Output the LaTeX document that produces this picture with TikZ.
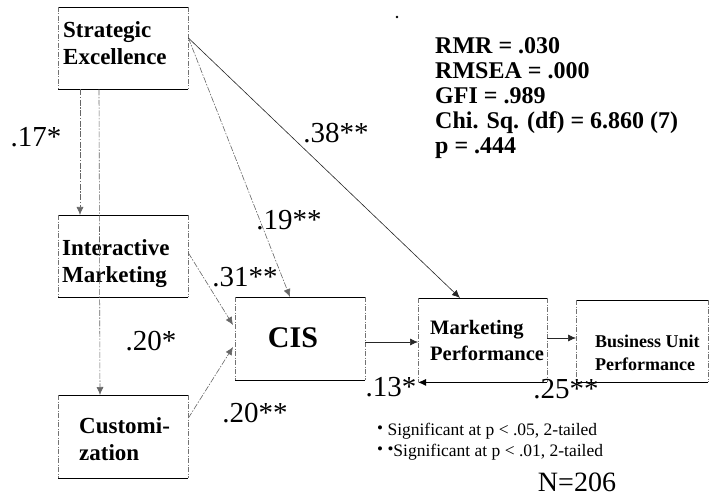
\documentclass[tikz,border=0pt]{standalone}
\usepackage{fontspec}
\setmainfont{Liberation Serif}
\usetikzlibrary{arrows.meta}
\newcommand{\notedot}{\raisebox{.25ex}{\fontsize{17}{17}\selectfont\textbullet}}
\begin{document}
\begin{tikzpicture}[x=1pt,y=-1pt,
  box/.style={draw=none, inner sep=0pt, anchor=north west},
  rim/.style={draw=black, line width=0.9pt},
  side/.style={draw=black!55, line width=0.5pt, dash pattern=on 5pt off 1.5pt on 1pt off 1.5pt},
  edge/.style={draw=black!85, line width=0.6pt, -{Latex[length=8pt,width=7pt]}},
  lite/.style={edge, draw=black!60, dash pattern=on 6pt off 1.5pt on 1.5pt off 1.5pt},
  boxtext/.style={font=\fontsize{23}{27}\selectfont\bfseries, align=left, inner sep=0pt, anchor=north west},
  coef/.style={font=\fontsize{29}{29}\selectfont, inner sep=0pt},
  stat/.style={font=\fontsize{24}{25}\selectfont\bfseries, align=left, inner sep=0pt, anchor=north west},
  note/.style={font=\fontsize{17.5}{21}\selectfont, align=left, inner sep=0pt, anchor=north west}
]
\useasboundingbox (0,0) rectangle (710,500);

% boxes
\node[box, minimum width=130pt, minimum height=82pt] (se)  at (58,7)   {};
\node[box, minimum width=130pt, minimum height=82pt] (im)  at (58,215) {};
\node[box, minimum width=130pt, minimum height=83pt] (cu)  at (58,395) {};
\node[box, minimum width=130pt, minimum height=83pt] (cis) at (235,297) {};
\node[box, minimum width=129pt, minimum height=84pt] (mp)  at (418,298) {};
\node[box, minimum width=132pt, minimum height=82pt] (bu)  at (576,300) {};

% box outlines: solid top and bottom, broken sides
\foreach \n in {se,im,cu,cis,bu}{
  \draw[rim] (\n.north west) -- (\n.north east);
  \draw[rim] (\n.south west) -- (\n.south east);
}
\draw[rim] (mp.north west) -- (mp.north east);
\foreach \n in {se,im,cu,cis,mp,bu}{
  \draw[side] (\n.north west) -- (\n.south west);
  \draw[side] (\n.north east) -- (\n.south east);
}

% box texts
\node[boxtext] (se-t) at ([xshift=5pt,yshift=-14pt]se.north west) {Strategic\\Excellence};
\node[boxtext] (im-t) at ([xshift=4pt,yshift=-24pt]im.north west) {Interactive\\Marketing};
\node[boxtext] (cu-t) at ([xshift=21pt,yshift=-22pt]cu.north west) {Customi-\\zation};
\node[font=\fontsize{30}{30}\selectfont\bfseries, inner sep=0pt] (cis-t) at (293,338) {CIS};
\node[boxtext, font=\fontsize{20.5}{26}\selectfont\bfseries] (mp-t) at ([xshift=12pt,yshift=-22pt]mp.north west) {Marketing\\Performance};
\node[boxtext, font=\fontsize{18}{23}\selectfont\bfseries] (bu-t) at ([xshift=19pt,yshift=-35pt]bu.north west) {Business Unit\\Performance};

% paths
\draw[lite] ([xshift=22pt]se.south west) -- ([xshift=22pt]im.north west);
\draw[lite] ([xshift=41pt]se.south west) -- ([xshift=42pt]cu.north west);
\draw[lite] ([yshift=-31pt]se.north east) -- ([xshift=55pt]cis.north west);
\draw[edge] ([yshift=-31pt]se.north east) -- ([xshift=42pt]mp.north west);
\draw[lite] ([yshift=-38pt]im.north east) -- ([xshift=-2pt,yshift=-28pt]cis.north west);
\draw[lite] ([yshift=-23pt]cu.north east) -- ([xshift=-2pt,yshift=-50pt]cis.north west);
\draw[edge] ([yshift=-45pt]cis.north east) -- ([yshift=-44pt]mp.north west);
\draw[edge] ([yshift=-40pt]mp.north east) -- ([yshift=-38pt]bu.north west);
\draw[rim, -{Latex[length=8pt,width=7pt]}] (mp.south east) -- (mp.south west);

% coefficients
\node[coef] (c17) at (36,137) {.17*};
\node[coef] (c38) at (336,133) {.38**};
\node[coef] (c19) at (289,220) {.19**};
\node[coef] (c31) at (245,277) {.31**};
\node[coef] (c20a) at (151,341) {.20*};
\node[coef] (c20b) at (255,413) {.20**};
\node[coef] (c13) at (391,387) {.13*};
\node[coef] (c25) at (566,389) {.25**};

% fit statistics
\fill (397,17) circle (1.3pt);
\node[stat] (fit) at (435,37) {RMR = .030\\RMSEA = .000\\GFI = .989\\Chi. Sq. (df) = 6.860 (7)\\p = .444};

% notes
\node[note] (sig) at (377,423) {\notedot\ Significant at p < .05, 2-tailed\\\notedot\ \notedot Significant at p < .01, 2-tailed};
\node[font=\fontsize{28}{28}\selectfont, inner sep=0pt] (n) at (577,482) {N=206};
\end{tikzpicture}
\end{document}
